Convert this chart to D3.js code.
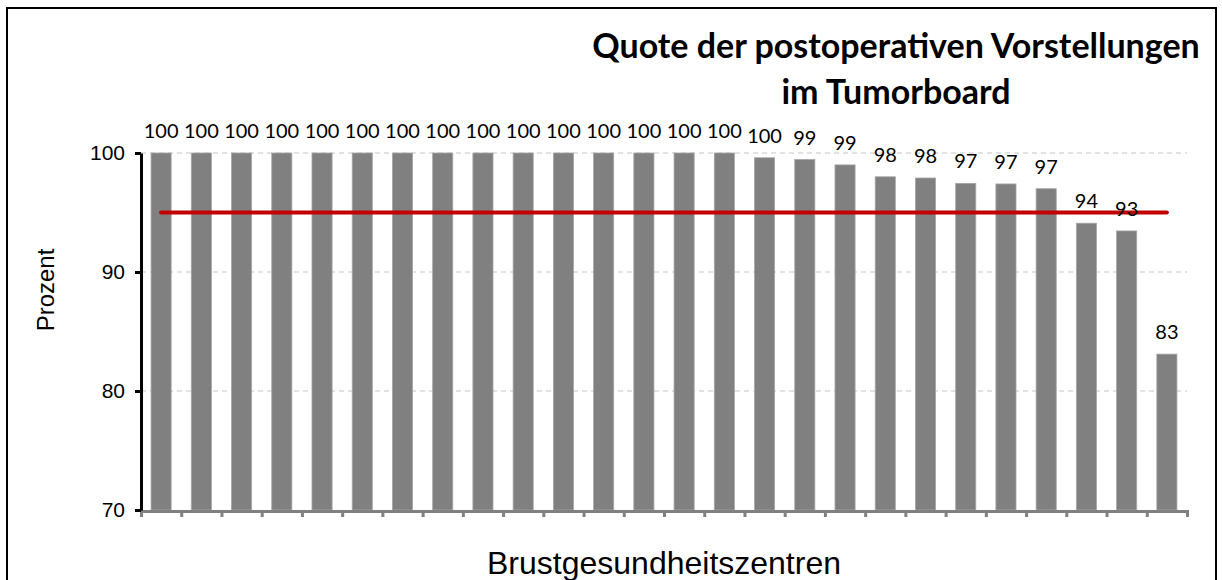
<!DOCTYPE html>
<html>
<head>
<meta charset="utf-8">
<script src="https://cdn.jsdelivr.net/npm/d3@7"></script>
<style>
  body { margin: 0; background: #fff; }
  svg { display: block; }
</style>
</head>
<body>
<script>
// Brustgesundheitszentren, sortiert nach Quote
var zentren = d3.range(1, 27).map(d => "Z" + d);
var quote = [100, 100, 100, 100, 100, 100, 100, 100, 100, 100, 100, 100, 100, 100, 100,
             99.6, 99.45, 99.0, 98.0, 97.9, 97.45, 97.4, 97.0, 94.1, 93.45, 83.1];
var zielwert = 95;
var yTicks = [70, 80, 90, 100];

var w = 1222, h = 580;
var margin = {left: 141, right: 35, top: 153, bottom: 70};

var svg = d3.select('body')
  .append('svg')
  .attr('width', w)
  .attr('height', h);

// Rahmen
svg.append('rect')
  .attr('x', 7).attr('y', 8)
  .attr('width', 1209).attr('height', 590)
  .attr('fill', 'none')
  .attr('stroke', '#000')
  .attr('stroke-width', 2);

var xScale = d3.scaleBand()
  .domain(zentren)
  .range([margin.left, 1187])
  .paddingInner(0.5)
  .paddingOuter(0.25);

var yScale = d3.scaleLinear()
  .domain([70, 100])
  .range([510, margin.top]);

// gitterlinien
svg.append('g')
  .selectAll('line')
  .data(yTicks.slice(1))
  .enter()
  .append('line')
    .attr('x1', margin.left)
    .attr('x2', 1187)
    .attr('y1', d => yScale(d))
    .attr('y2', d => yScale(d))
    .attr('stroke', '#d9d9d9')
    .attr('stroke-width', 1.5)
    .attr('stroke-dasharray', '5,4');

// bars
svg.selectAll('rect.bar')
  .data(quote)
  .enter()
  .append('rect')
    .attr('class', 'bar')
    .attr('x', (d, i) => xScale(zentren[i]))
    .attr('y', d => yScale(d))
    .attr('width', xScale.bandwidth())
    .attr('height', d => yScale(70) - yScale(d))
    .attr('fill', '#808080')
    .attr('stroke', '#a6a6a6')
    .attr('stroke-width', 0.8);

// x axis (grau)
var xAxisScale = d3.scaleLinear().domain([0, zentren.length]).range([margin.left, 1187]);
var xg = svg.append('g')
  .attr('transform', `translate(0, ${yScale(70) + 1})`)
  .call(d3.axisBottom(xAxisScale).ticks(zentren.length).tickSize(6).tickFormat(''));
xg.select('.domain').attr('stroke', '#808080').attr('stroke-width', 3);
xg.selectAll('.tick line').attr('stroke', '#808080').attr('stroke-width', 3);

// y axis
var yg = svg.append('g')
  .attr('transform', `translate(${margin.left},0)`)
  .call(d3.axisLeft(yScale).tickValues(yTicks).tickSize(6).tickSizeOuter(0).tickPadding(10));
yg.select('.domain').attr('stroke', '#000').attr('stroke-width', 3);
yg.selectAll('.tick line').attr('stroke', '#000').attr('stroke-width', 3);
yg.selectAll('.tick text')
  .style('font-family', 'Liberation Sans, Arial, sans-serif')
  .style('font-size', '21px')
  .attr('fill', '#000');

// Zielwert-Linie
var line = d3.line()
  .x((d, i) => xScale(zentren[i]) + xScale.bandwidth() / 2)
  .y(() => yScale(zielwert));
svg.append('path')
  .datum(quote)
  .attr('d', line)
  .attr('fill', 'none')
  .attr('stroke', '#c00000')
  .attr('stroke-width', 4)
  .attr('stroke-linecap', 'round');

// Werte über den Balken
svg.selectAll('text.lbl')
  .data(quote)
  .enter()
  .append('text')
    .attr('class', 'lbl')
    .attr('x', (d, i) => xScale(zentren[i]) + xScale.bandwidth() / 2)
    .attr('y', d => yScale(d) - 15)
    .attr('text-anchor', 'middle')
    .style('font-family', 'Lato, sans-serif')
    .style('font-size', '20px')
    .text(d => Math.round(d));

// Titel
var title = svg.append('text')
  .attr('text-anchor', 'middle')
  .style('font-family', 'Lato, sans-serif')
  .style('font-weight', 'bold')
  .style('font-size', '34px');
title.append('tspan').attr('x', 896).attr('y', 58).text('Quote der postoperativen Vorstellungen');
title.append('tspan').attr('x', 896).attr('y', 104).text('im Tumorboard');

// Achsentitel
svg.append('text')
  .attr('text-anchor', 'middle')
  .attr('transform', 'translate(54, 290) rotate(-90)')
  .style('font-family', 'Liberation Sans, Arial, sans-serif')
  .style('font-size', '24px')
  .text('Prozent');

svg.append('text')
  .attr('text-anchor', 'middle')
  .attr('x', 664)
  .attr('y', 574)
  .style('font-family', 'Liberation Sans, Arial, sans-serif')
  .style('font-size', '32px')
  .text('Brustgesundheitszentren');
</script>
</body>
</html>
